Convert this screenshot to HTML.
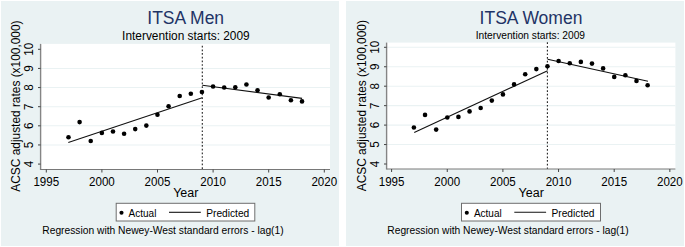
<!DOCTYPE html>
<html><head><meta charset="utf-8"><style>
html,body{margin:0;padding:0;background:#fff;}
body{width:685px;height:247px;overflow:hidden;}
svg{display:block;}
text{font-family:"Liberation Sans", sans-serif;}
</style></head><body>
<svg width="685" height="247" viewBox="0 0 685 247">
<rect x="0" y="0" width="685" height="247" fill="#fff"/>
<rect x="1" y="1" width="338" height="245" fill="#EAF2F3"/>
<rect x="40.5" y="43.9" width="289.5" height="125.6" fill="#fff"/>
<line x1="40.5" x2="330" y1="68.43" y2="68.43" stroke="#EAF2F3" stroke-width="1.1"/>
<line x1="40.5" x2="330" y1="87.56" y2="87.56" stroke="#EAF2F3" stroke-width="1.1"/>
<line x1="40.5" x2="330" y1="106.69" y2="106.69" stroke="#EAF2F3" stroke-width="1.1"/>
<line x1="40.5" x2="330" y1="125.82" y2="125.82" stroke="#EAF2F3" stroke-width="1.1"/>
<line x1="40.5" x2="330" y1="144.95" y2="144.95" stroke="#EAF2F3" stroke-width="1.1"/>
<line x1="202.30" x2="202.30" y1="45.75" y2="169.5" stroke="#222" stroke-width="1.1" stroke-dasharray="1.7 1.98"/>
<line x1="40.6" x2="40.6" y1="43.9" y2="170.0" stroke="#858585" stroke-width="1.4"/>
<line x1="40.6" x2="330" y1="169.5" y2="169.5" stroke="#787878" stroke-width="1"/>
<line x1="38.0" x2="40.6" y1="49.30" y2="49.30" stroke="#444" stroke-width="1"/>
<text transform="translate(33.2,49.30) rotate(-90) scale(1,1.1)" text-anchor="middle" font-size="11.6">10</text>
<line x1="38.0" x2="40.6" y1="68.43" y2="68.43" stroke="#444" stroke-width="1"/>
<text transform="translate(33.2,68.43) rotate(-90) scale(1,1.1)" text-anchor="middle" font-size="11.6">9</text>
<line x1="38.0" x2="40.6" y1="87.56" y2="87.56" stroke="#444" stroke-width="1"/>
<text transform="translate(33.2,87.56) rotate(-90) scale(1,1.1)" text-anchor="middle" font-size="11.6">8</text>
<line x1="38.0" x2="40.6" y1="106.69" y2="106.69" stroke="#444" stroke-width="1"/>
<text transform="translate(33.2,106.69) rotate(-90) scale(1,1.1)" text-anchor="middle" font-size="11.6">7</text>
<line x1="38.0" x2="40.6" y1="125.82" y2="125.82" stroke="#444" stroke-width="1"/>
<text transform="translate(33.2,125.82) rotate(-90) scale(1,1.1)" text-anchor="middle" font-size="11.6">6</text>
<line x1="38.0" x2="40.6" y1="144.95" y2="144.95" stroke="#444" stroke-width="1"/>
<text transform="translate(33.2,144.95) rotate(-90) scale(1,1.1)" text-anchor="middle" font-size="11.6">5</text>
<line x1="38.0" x2="40.6" y1="164.08" y2="164.08" stroke="#444" stroke-width="1"/>
<text transform="translate(33.2,164.08) rotate(-90) scale(1,1.1)" text-anchor="middle" font-size="11.6">4</text>
<line x1="46.30" x2="46.30" y1="169.5" y2="172.5" stroke="#444" stroke-width="1"/>
<text transform="translate(46.30,185.8) scale(1,1.1)" text-anchor="middle" font-size="11.6">1995</text>
<line x1="101.90" x2="101.90" y1="169.5" y2="172.5" stroke="#444" stroke-width="1"/>
<text transform="translate(101.90,185.8) scale(1,1.1)" text-anchor="middle" font-size="11.6">2000</text>
<line x1="157.50" x2="157.50" y1="169.5" y2="172.5" stroke="#444" stroke-width="1"/>
<text transform="translate(157.50,185.8) scale(1,1.1)" text-anchor="middle" font-size="11.6">2005</text>
<line x1="213.10" x2="213.10" y1="169.5" y2="172.5" stroke="#444" stroke-width="1"/>
<text transform="translate(213.10,185.8) scale(1,1.1)" text-anchor="middle" font-size="11.6">2010</text>
<line x1="268.70" x2="268.70" y1="169.5" y2="172.5" stroke="#444" stroke-width="1"/>
<text transform="translate(268.70,185.8) scale(1,1.1)" text-anchor="middle" font-size="11.6">2015</text>
<line x1="324.30" x2="324.30" y1="169.5" y2="172.5" stroke="#444" stroke-width="1"/>
<text transform="translate(324.30,185.8) scale(1,1.1)" text-anchor="middle" font-size="11.6">2020</text>
<line x1="68.3" y1="142.5" x2="202.2" y2="97.7" stroke="#111" stroke-width="1.1"/>
<line x1="202.3" y1="85.3" x2="302.1" y2="98.4" stroke="#111" stroke-width="1.1"/>
<circle cx="68.50" cy="137.3" r="2.3" fill="#000"/>
<circle cx="79.62" cy="122.1" r="2.3" fill="#000"/>
<circle cx="90.74" cy="141" r="2.3" fill="#000"/>
<circle cx="101.86" cy="132.9" r="2.3" fill="#000"/>
<circle cx="112.98" cy="131.5" r="2.3" fill="#000"/>
<circle cx="124.10" cy="133.7" r="2.3" fill="#000"/>
<circle cx="135.22" cy="129.1" r="2.3" fill="#000"/>
<circle cx="146.34" cy="125.6" r="2.3" fill="#000"/>
<circle cx="157.46" cy="114.8" r="2.3" fill="#000"/>
<circle cx="168.58" cy="106.3" r="2.3" fill="#000"/>
<circle cx="179.70" cy="96" r="2.3" fill="#000"/>
<circle cx="190.82" cy="93.7" r="2.3" fill="#000"/>
<circle cx="201.94" cy="92" r="2.3" fill="#000"/>
<circle cx="213.06" cy="86.5" r="2.3" fill="#000"/>
<circle cx="224.18" cy="87.5" r="2.3" fill="#000"/>
<circle cx="235.30" cy="87.3" r="2.3" fill="#000"/>
<circle cx="246.42" cy="84.5" r="2.3" fill="#000"/>
<circle cx="257.54" cy="90.2" r="2.3" fill="#000"/>
<circle cx="268.66" cy="97.5" r="2.3" fill="#000"/>
<circle cx="279.78" cy="94.2" r="2.3" fill="#000"/>
<circle cx="290.90" cy="100.3" r="2.3" fill="#000"/>
<circle cx="302.02" cy="101.4" r="2.3" fill="#000"/>
<text x="185.7" y="23.9" text-anchor="middle" font-size="17.5" style="fill:#1F3466">ITSA Men</text>
<text transform="translate(185.9,40) scale(1,1.1)" text-anchor="middle" font-size="11.9">Intervention starts: 2009</text>
<text transform="translate(20.4,106.1) rotate(-90) scale(1,1.07)" text-anchor="middle" font-size="11.9">ACSC adjusted rates (x100,000)</text>
<text x="185.8" y="197.0" text-anchor="middle" font-size="12.5">Year</text>
<rect x="116.2" y="203.3" width="138.60000000000002" height="17.69999999999999" fill="#fff" stroke="#6e6e6e" stroke-width="1"/>
<circle cx="121.5" cy="212.8" r="2.05" fill="#000"/>
<text x="128.6" y="216.5" font-size="10">Actual</text>
<line x1="169.0" x2="200.8" y1="212.3" y2="212.3" stroke="#111" stroke-width="1.1"/>
<text x="206.2" y="216.5" font-size="10.2">Predicted</text>
<text x="42.3" y="233.6" font-size="10.25">Regression with Newey-West standard errors - lag(1)</text>
<rect x="346" y="1" width="338" height="245" fill="#EAF2F3"/>
<rect x="386.5" y="42.6" width="288.9" height="126.4" fill="#fff"/>
<line x1="386.5" x2="675.4" y1="47.30" y2="47.30" stroke="#EAF2F3" stroke-width="1.1"/>
<line x1="386.5" x2="675.4" y1="66.75" y2="66.75" stroke="#EAF2F3" stroke-width="1.1"/>
<line x1="386.5" x2="675.4" y1="86.20" y2="86.20" stroke="#EAF2F3" stroke-width="1.1"/>
<line x1="386.5" x2="675.4" y1="105.65" y2="105.65" stroke="#EAF2F3" stroke-width="1.1"/>
<line x1="386.5" x2="675.4" y1="125.10" y2="125.10" stroke="#EAF2F3" stroke-width="1.1"/>
<line x1="386.5" x2="675.4" y1="144.55" y2="144.55" stroke="#EAF2F3" stroke-width="1.1"/>
<line x1="547.40" x2="547.40" y1="42.35" y2="169" stroke="#222" stroke-width="1.1" stroke-dasharray="1.7 1.98"/>
<line x1="386.6" x2="386.6" y1="42.6" y2="169.5" stroke="#858585" stroke-width="1.4"/>
<line x1="386.6" x2="675.4" y1="169" y2="169" stroke="#787878" stroke-width="1"/>
<line x1="384.0" x2="386.6" y1="47.30" y2="47.30" stroke="#444" stroke-width="1"/>
<text transform="translate(378.5,47.30) rotate(-90) scale(1,1.1)" text-anchor="middle" font-size="11.6">10</text>
<line x1="384.0" x2="386.6" y1="66.75" y2="66.75" stroke="#444" stroke-width="1"/>
<text transform="translate(378.5,66.75) rotate(-90) scale(1,1.1)" text-anchor="middle" font-size="11.6">9</text>
<line x1="384.0" x2="386.6" y1="86.20" y2="86.20" stroke="#444" stroke-width="1"/>
<text transform="translate(378.5,86.20) rotate(-90) scale(1,1.1)" text-anchor="middle" font-size="11.6">8</text>
<line x1="384.0" x2="386.6" y1="105.65" y2="105.65" stroke="#444" stroke-width="1"/>
<text transform="translate(378.5,105.65) rotate(-90) scale(1,1.1)" text-anchor="middle" font-size="11.6">7</text>
<line x1="384.0" x2="386.6" y1="125.10" y2="125.10" stroke="#444" stroke-width="1"/>
<text transform="translate(378.5,125.10) rotate(-90) scale(1,1.1)" text-anchor="middle" font-size="11.6">6</text>
<line x1="384.0" x2="386.6" y1="144.55" y2="144.55" stroke="#444" stroke-width="1"/>
<text transform="translate(378.5,144.55) rotate(-90) scale(1,1.1)" text-anchor="middle" font-size="11.6">5</text>
<line x1="384.0" x2="386.6" y1="164.00" y2="164.00" stroke="#444" stroke-width="1"/>
<text transform="translate(378.5,164.00) rotate(-90) scale(1,1.1)" text-anchor="middle" font-size="11.6">4</text>
<line x1="391.60" x2="391.60" y1="169" y2="172" stroke="#444" stroke-width="1"/>
<text transform="translate(391.60,185.7) scale(1,1.1)" text-anchor="middle" font-size="11.6">1995</text>
<line x1="447.25" x2="447.25" y1="169" y2="172" stroke="#444" stroke-width="1"/>
<text transform="translate(447.25,185.7) scale(1,1.1)" text-anchor="middle" font-size="11.6">2000</text>
<line x1="502.90" x2="502.90" y1="169" y2="172" stroke="#444" stroke-width="1"/>
<text transform="translate(502.90,185.7) scale(1,1.1)" text-anchor="middle" font-size="11.6">2005</text>
<line x1="558.55" x2="558.55" y1="169" y2="172" stroke="#444" stroke-width="1"/>
<text transform="translate(558.55,185.7) scale(1,1.1)" text-anchor="middle" font-size="11.6">2010</text>
<line x1="614.20" x2="614.20" y1="169" y2="172" stroke="#444" stroke-width="1"/>
<text transform="translate(614.20,185.7) scale(1,1.1)" text-anchor="middle" font-size="11.6">2015</text>
<line x1="669.85" x2="669.85" y1="169" y2="172" stroke="#444" stroke-width="1"/>
<text transform="translate(669.85,185.7) scale(1,1.1)" text-anchor="middle" font-size="11.6">2020</text>
<line x1="414.2" y1="132.4" x2="547.6" y2="70.7" stroke="#111" stroke-width="1.1"/>
<line x1="547.6" y1="59.2" x2="648" y2="81.3" stroke="#111" stroke-width="1.1"/>
<circle cx="413.90" cy="127.5" r="2.3" fill="#000"/>
<circle cx="425.03" cy="114.9" r="2.3" fill="#000"/>
<circle cx="436.16" cy="129.6" r="2.3" fill="#000"/>
<circle cx="447.29" cy="117.5" r="2.3" fill="#000"/>
<circle cx="458.42" cy="116.9" r="2.3" fill="#000"/>
<circle cx="469.55" cy="111.4" r="2.3" fill="#000"/>
<circle cx="480.68" cy="108" r="2.3" fill="#000"/>
<circle cx="491.81" cy="100.6" r="2.3" fill="#000"/>
<circle cx="502.94" cy="94.4" r="2.3" fill="#000"/>
<circle cx="514.07" cy="84.4" r="2.3" fill="#000"/>
<circle cx="525.20" cy="74.3" r="2.3" fill="#000"/>
<circle cx="536.33" cy="69.1" r="2.3" fill="#000"/>
<circle cx="547.46" cy="66.2" r="2.3" fill="#000"/>
<circle cx="558.59" cy="61" r="2.3" fill="#000"/>
<circle cx="569.72" cy="63.3" r="2.3" fill="#000"/>
<circle cx="580.85" cy="61.9" r="2.3" fill="#000"/>
<circle cx="591.98" cy="63.6" r="2.3" fill="#000"/>
<circle cx="603.11" cy="68.4" r="2.3" fill="#000"/>
<circle cx="614.24" cy="76.9" r="2.3" fill="#000"/>
<circle cx="625.37" cy="75.3" r="2.3" fill="#000"/>
<circle cx="636.50" cy="80.9" r="2.3" fill="#000"/>
<circle cx="647.63" cy="85.3" r="2.3" fill="#000"/>
<text x="531" y="24.1" text-anchor="middle" font-size="17.5" style="fill:#1F3466">ITSA Women</text>
<text transform="translate(530.4,38.8) scale(1,1.07)" text-anchor="middle" font-size="10.2">Intervention starts: 2009</text>
<text transform="translate(366.2,105.7) rotate(-90) scale(1,1.07)" text-anchor="middle" font-size="11.9">ACSC adjusted rates (x100,000)</text>
<text x="531.2" y="197.2" text-anchor="middle" font-size="12.5">Year</text>
<rect x="461.5" y="203.3" width="139.0" height="17.69999999999999" fill="#fff" stroke="#6e6e6e" stroke-width="1"/>
<circle cx="466.8" cy="212.8" r="2.05" fill="#000"/>
<text x="473.9" y="216.5" font-size="10">Actual</text>
<line x1="514.3" x2="546.1" y1="212.3" y2="212.3" stroke="#111" stroke-width="1.1"/>
<text x="551.5" y="216.5" font-size="10.2">Predicted</text>
<text x="387.3" y="233.6" font-size="10.25">Regression with Newey-West standard errors - lag(1)</text>
</svg>
</body></html>
